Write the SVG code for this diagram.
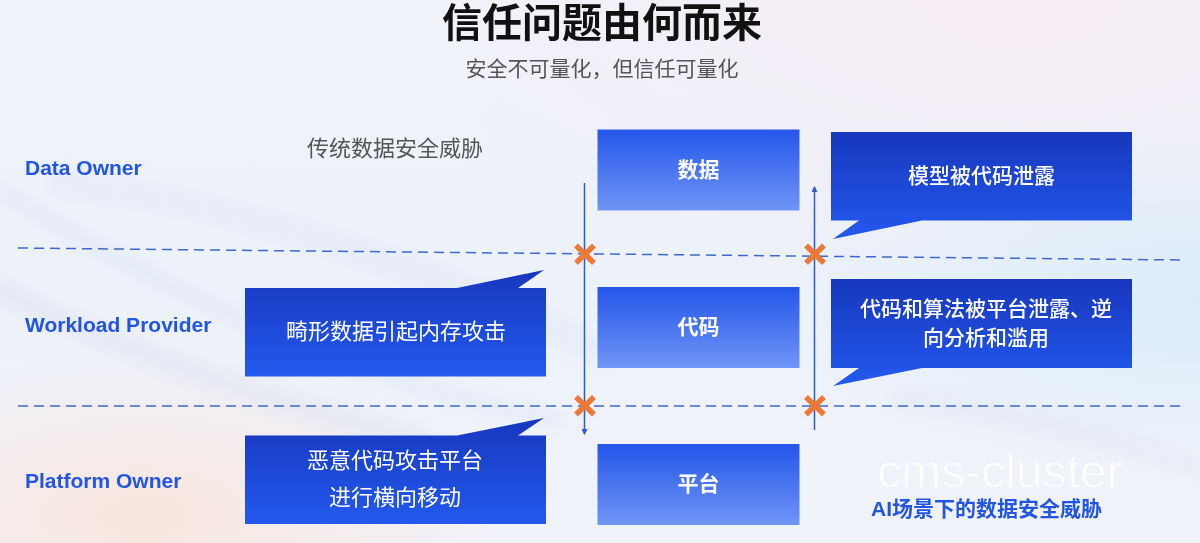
<svg xmlns="http://www.w3.org/2000/svg" width="1200" height="543" viewBox="0 0 1200 543">
<style>
text{font-family:"Liberation Sans","Noto Sans CJK SC",sans-serif}
.lbl{font-size:21px;font-weight:700;fill:#2256e2}
.box{font-size:21px;font-weight:700;fill:#fff;text-anchor:middle}
.call{font-size:22px;fill:#fff;text-anchor:middle;font-family:"Noto Sans CJK SC",sans-serif}
.callb{font-size:21px;font-weight:500;fill:#fff;text-anchor:middle;font-family:"Noto Sans CJK SC",sans-serif}
.dash{stroke:#3f67cf;stroke-width:1.5;stroke-dasharray:10 6;fill:none}
.arrow{stroke:#2a5bd8;stroke-width:1.5;fill:none}
.x{stroke:#ec7a36;stroke-width:5.500;fill:none}
</style>
<defs>
<linearGradient id="bg" x1="0" y1="0" x2="0" y2="1"><stop offset="0" stop-color="#f0f3fb"/><stop offset="0.5" stop-color="#ecf1fa"/><stop offset="1" stop-color="#f1f3fa"/></linearGradient>
<radialGradient id="pink" cx="0.85" cy="0" r="0.55"><stop offset="0" stop-color="#f6ecf4"/><stop offset="1" stop-color="#f6ecf4" stop-opacity="0"/></radialGradient>
<radialGradient id="sky" cx="1" cy="0.55" r="0.35"><stop offset="0" stop-color="#dcedf9"/><stop offset="1" stop-color="#dcedf9" stop-opacity="0"/></radialGradient>
<radialGradient id="peach" cx="0.12" cy="0.95" r="0.3"><stop offset="0" stop-color="#f9e6de"/><stop offset="1" stop-color="#f9e6de" stop-opacity="0"/></radialGradient>
<filter id="soft" x="-20%" y="-20%" width="140%" height="140%"><feGaussianBlur stdDeviation="7"/></filter>
<linearGradient id="box" x1="0" y1="0" x2="0" y2="1"><stop offset="0" stop-color="#2456ea"/><stop offset="1" stop-color="#6f95f5"/></linearGradient>
<linearGradient id="callout" x1="0" y1="0" x2="0" y2="1"><stop offset="0" stop-color="#1737bd"/><stop offset="1" stop-color="#2359ee"/></linearGradient>
<marker id="ah" viewBox="0 0 6 6" refX="5" refY="3" markerWidth="4" markerHeight="4" orient="auto"><path d="M0 0L6 3L0 6z" fill="#2a5bd8"/></marker>
</defs>
<rect width="1200" height="543" fill="url(#bg)"/>
<rect width="1200" height="543" fill="url(#pink)"/>
<rect width="1200" height="543" fill="url(#sky)"/>
<rect width="1200" height="543" fill="url(#peach)"/>
<g filter="url(#soft)" fill="none" stroke-linecap="round">
<path d="M0 190C130 270 330 380 560 420" stroke="#dfe8f6" stroke-width="12" opacity=".7"/>
<path d="M0 290C120 350 260 400 420 440" stroke="#e2e6f3" stroke-width="20" opacity=".7"/>
<path d="M60 185C200 195 420 260 600 350" stroke="#e4eaf6" stroke-width="24" opacity=".6"/>
<path d="M900 400C980 410 1100 430 1200 470" stroke="#e4e9f5" stroke-width="18" opacity=".6"/>
</g>
<text x="602" y="37" font-size="40" font-weight="700" fill="#111" text-anchor="middle">信任问题由何而来</text>
<text x="602" y="76" font-size="21" fill="#555" text-anchor="middle">安全不可量化，但信任可量化</text>
<text x="395" y="156" font-size="22" fill="#555" text-anchor="middle">传统数据安全威胁</text>
<g id="connectors">
<path class="dash" d="M18 248L1184 260"/>
<path class="dash" d="M18 406H1184"/>
<path class="arrow" marker-end="url(#ah)" d="M584.500 183V434"/>
<path class="arrow" marker-end="url(#ah)" d="M814.500 430V187"/>
</g>
<g id="x1"><path class="x" d="M576 245.500L594 263M594 245.500L576 263"/></g>
<g id="x2"><path class="x" d="M806 245.500L824 263M824 245.500L806 263"/></g>
<g id="x3"><path class="x" d="M576 397L594 414.500M594 397L576 414.500"/></g>
<g id="x4"><path class="x" d="M806 397L824 414.500M824 397L806 414.500"/></g>
<g id="data-owner"><text class="lbl" x="25" y="175">Data Owner</text></g>
<g id="workload-provider"><text class="lbl" x="25" y="332">Workload Provider</text></g>
<g id="platform-owner"><text class="lbl" x="25" y="488">Platform Owner</text></g>
<g id="data"><rect x="597.500" y="129.500" width="202" height="81" fill="url(#box)"/><text class="box" x="698.500" y="177">数据</text></g>
<g id="code"><rect x="597.500" y="287" width="202" height="81" fill="url(#box)"/><text class="box" x="698.500" y="334">代码</text></g>
<g id="platform"><rect x="597.500" y="444" width="202" height="81" fill="url(#box)"/><text class="box" x="698.500" y="491">平台</text></g>
<g id="callout-model"><path d="M831 132H1132V220.500H922L833 239L859 220.500H831z" fill="url(#callout)"/><text class="callb" x="981.500" y="183">模型被代码泄露</text></g>
<g id="callout-algo"><path d="M831 279H1132V368H922L833 386L859 368H831z" fill="url(#callout)"/><text class="callb" x="986" y="316">代码和算法被平台泄露、逆</text><text class="callb" x="986" y="345">向分析和滥用</text></g>
<g id="callout-malformed"><path d="M245 288H457L544 270L518 288H546V376.500H245z" fill="url(#callout)"/><text class="call" x="396" y="339">畸形数据引起内存攻击</text></g>
<g id="callout-malicious"><path d="M245 435.500H457L544 418L518 435.500H546V524H245z" fill="url(#callout)"/><text class="call" x="395" y="468">恶意代码攻击平台</text><text class="call" x="395" y="505">进行横向移动</text></g>
<text x="1000" y="488" font-size="48" fill="#fff" stroke="#f0f3fa" stroke-width="1.400" text-anchor="middle" font-family="Inter,sans-serif">cms-cluster</text>
<text x="986.500" y="516" font-size="21" font-weight="700" fill="#2256e2" text-anchor="middle">AI场景下的数据安全威胁</text>
</svg>
